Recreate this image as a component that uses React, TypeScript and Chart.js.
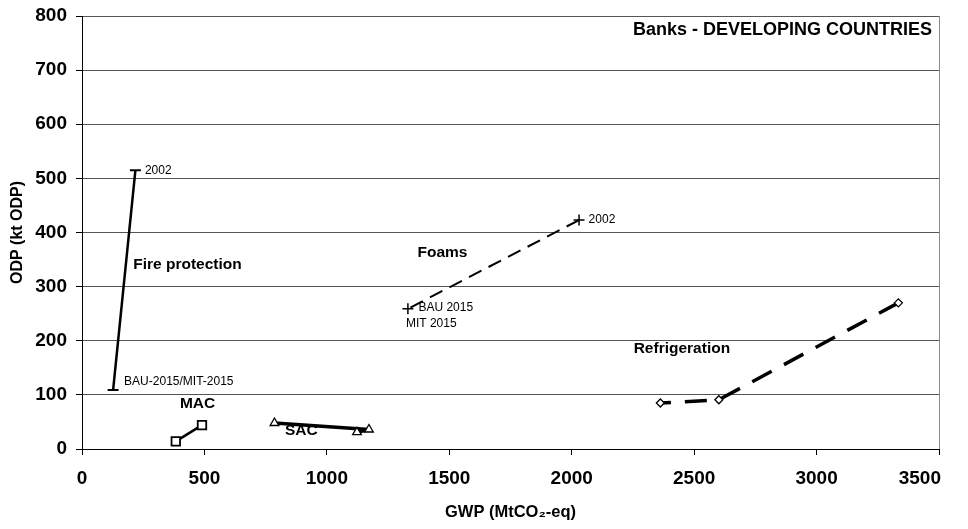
import React, { useEffect, useRef } from 'react';
import { Chart, registerables } from 'chart.js';

Chart.register(...registerables);

const FONT = '"Liberation Sans", Arial, Helvetica, sans-serif';

// ---- data (GWP in MtCO2-eq, ODP in kt ODP) ----
const fireGWP = [218, 127];
const fireODP = [515, 109];
const macGWP = [490, 383];
const macODP = [44, 14];
const sacGWP = [786, 1172, 1123];
const sacODP = [48, 36, 31];
const foamGWP = [2030, 1331];
const foamODP = [423, 259];
const refGWP = [3334, 2601, 2362];
const refODP = [270, 91, 85];

const xTickValues = [0, 500, 1000, 1500, 2000, 2500, 3000, 3500];
const yTickValues = [0, 100, 200, 300, 400, 500, 600, 700, 800];

const chartTitle = 'Banks - DEVELOPING COUNTRIES';
const xTitle = 'GWP (MtCO\u2082-eq)';
const yTitle = 'ODP (kt ODP)';

// annotation texts and their anchor (left, middle) in data units
const noteTexts = ['2002', 'BAU-2015/MIT-2015', 'Fire protection', 'MAC', 'SAC', 'Foams', 'BAU 2015', 'MIT 2015', '2002', 'Refrigeration'];
const noteGWP = [257, 172, 209, 400, 829, 1370, 1374, 1323, 2069, 2253];
const noteODP = [515, 124, 341, 84, 34, 362, 261, 231, 423, 185];
const noteBold = [false, false, true, true, true, true, false, false, false, true];

const pts = (xs: number[], ys: number[]) => xs.map((x, i) => ({ x, y: ys[i] }));

const textPlugin = {
  id: 'texts',
  afterDatasetsDraw(chart: any) {
    const { ctx, chartArea, scales } = chart;
    const xs = scales.x;
    const ys = scales.y;
    ctx.save();
    // plot box (right side) gray
    ctx.strokeStyle = '#8a8a8a';
    ctx.lineWidth = 1;
    ctx.beginPath();
    ctx.moveTo(Math.round(chartArea.right) + 0.5, chartArea.top);
    ctx.lineTo(Math.round(chartArea.right) + 0.5, chartArea.bottom);
    ctx.stroke();

    ctx.fillStyle = '#000';
    ctx.textBaseline = 'middle';

    // x tick labels (last one kept inside the plot width, as in the original)
    ctx.font = `bold 19px ${FONT}`;
    ctx.textAlign = 'center';
    xTickValues.forEach((v) => {
      const s = String(v);
      const w = ctx.measureText(s).width;
      let px = xs.getPixelForValue(v);
      if (px + w / 2 > chartArea.right + 2) px = chartArea.right + 2 - w / 2;
      ctx.fillText(s, px, chartArea.bottom + 30);
    });

    noteTexts.forEach((t, i) => {
      ctx.font = noteBold[i] ? `bold 15.5px ${FONT}` : `12px ${FONT}`;
      ctx.textAlign = 'left';
      ctx.fillText(t, xs.getPixelForValue(noteGWP[i]), ys.getPixelForValue(noteODP[i]));
    });

    // chart title
    ctx.font = `bold 18px ${FONT}`;
    ctx.textAlign = 'right';
    ctx.fillText(chartTitle, chartArea.right - 7, chartArea.top + 14.5);

    // x title
    ctx.font = `bold 16.5px ${FONT}`;
    ctx.textAlign = 'center';
    ctx.fillText(xTitle, (chartArea.left + chartArea.right) / 2, 512);

    // y title
    ctx.translate(18, (chartArea.top + chartArea.bottom) / 2);
    ctx.rotate(-Math.PI / 2);
    ctx.font = `bold 16px ${FONT}`;
    ctx.textAlign = 'center';
    ctx.fillText(yTitle, 0, 0);
    ctx.restore();
  },
};

export default function App() {
  const ref = useRef<HTMLCanvasElement | null>(null);
  useEffect(() => {
    if (!ref.current) return;
    const base = {
      borderColor: '#000',
      pointBorderColor: '#000',
      pointBackgroundColor: '#fff',
      showLine: true,
      fill: false,
      tension: 0,
    };
    const chart = new Chart(ref.current, {
      type: 'scatter',
      data: {
        datasets: [
          { ...base, label: 'Fire protection', data: pts(fireGWP, fireODP), borderWidth: 2.5, pointStyle: 'line', pointRadius: 5.5, pointBorderWidth: 2 },
          { ...base, label: 'MAC', data: pts(macGWP, macODP), borderWidth: 2.5, pointStyle: 'rect', pointRadius: 6, pointBorderWidth: 1.8 },
          { ...base, label: 'SAC', data: pts(sacGWP, sacODP), borderWidth: 3.5, borderJoinStyle: 'round', pointStyle: 'triangle', pointRadius: 5, pointBorderWidth: 1.3 },
          { ...base, label: 'Foams', data: pts(foamGWP, foamODP), borderWidth: 2, borderDash: [14, 8], pointStyle: 'cross', pointRadius: 5.5, pointBorderWidth: 1.5 },
          { ...base, label: 'Refrigeration', data: pts(refGWP, refODP), borderWidth: 3.5, borderDash: [22, 14], pointStyle: 'rectRot', pointRadius: 4, pointBorderWidth: 1.3 },
        ],
      },
      options: {
        responsive: false,
        animation: false,
        layout: { padding: { top: 16, right: 29, left: 0, bottom: 0 } },
        plugins: { legend: { display: false }, tooltip: { enabled: false } },
        scales: {
          x: {
            type: 'linear',
            min: 0,
            max: 3500,
            afterBuildTicks: (s: any) => { s.ticks = xTickValues.map((v) => ({ value: v })); },
            afterFit: (s: any) => { s.height = 80; s.paddingLeft = 0; s.paddingRight = 0; },
            ticks: { display: false },
            grid: { drawOnChartArea: false, drawTicks: true, tickLength: 6, tickColor: '#000', color: '#000' },
            border: { color: '#000', width: 1 },
          },
          y: {
            type: 'linear',
            min: 0,
            max: 800,
            afterBuildTicks: (s: any) => { s.ticks = yTickValues.map((v) => ({ value: v })); },
            afterFit: (s: any) => { s.width = 82; s.paddingTop = 0; s.paddingBottom = 0; },
            ticks: { color: '#000', font: { family: FONT, size: 19, weight: 'bold' }, padding: 9, callback: (v: any) => String(v) },
            grid: { color: '#555', lineWidth: 1, drawTicks: true, tickLength: 6, tickColor: '#000' },
            border: { color: '#000', width: 1 },
          },
        },
      },
      plugins: [textPlugin],
    } as any);
    return () => chart.destroy();
  }, []);
  return (
    <div style={{ position: 'fixed', left: 0, top: 0, width: 968, height: 529, background: '#fff' }}>
      <canvas ref={ref} width={968} height={529} style={{ display: 'block', width: 968, height: 529 }} />
    </div>
  );
}
